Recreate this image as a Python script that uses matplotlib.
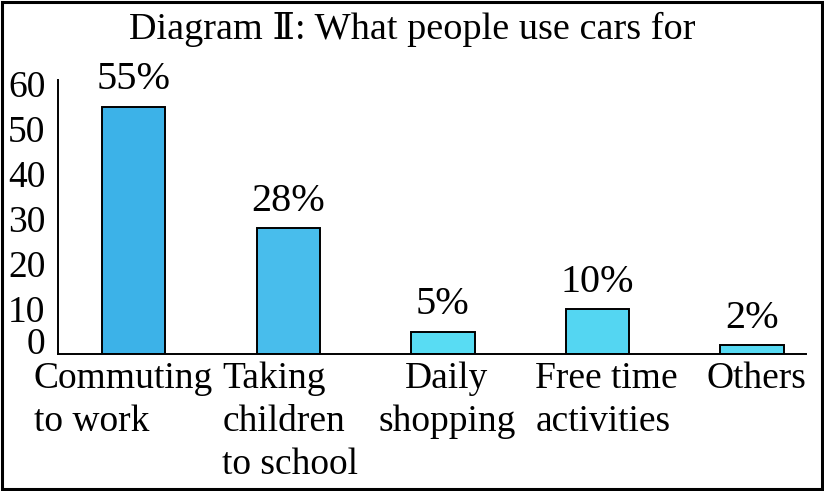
import matplotlib
matplotlib.use("Agg")
import matplotlib.pyplot as plt
from matplotlib.patches import Rectangle
from matplotlib.transforms import ScaledTranslation

categories = ["Commuting\nto work", "Taking\nchildren\nto school", "Daily\nshopping",
              "Free time\nactivities", "Others"]
values = [55, 28, 5, 10, 2]
value_labels = ["55%", "28%", "5%", "10%", "2%"]
y_ticks = [0, 10, 20, 30, 40, 50, 60]
title = "Diagram \u2161: What people use cars for"

bar_colors = ["#3cb2e8", "#48bdec", "#58dcf3", "#54d6f2", "#58daf3"]
# horizontal anchor of each category text and its offset (px) from the bar centre
label_ha = ["left", "left", "center", "left", "center"]
label_dx = [-100, -66, 4, -62, 5]

plt.rcParams["font.family"] = ["Liberation Serif", "DejaVu Serif", "DejaVu Sans"]

fig = plt.figure(figsize=(8.24, 4.91), dpi=100)
ax = fig.add_axes([58 / 824, 1 - 354 / 491, (806 - 58) / 824, (354 - 80) / 491])

x = list(range(len(values)))
ax.bar(x, values, width=0.41, color=bar_colors, edgecolor="black", linewidth=1.4, zorder=2)

for i in range(len(x)):
    ax.text(x[i], values[i] + 1.8, value_labels[i], ha="center", va="bottom", fontsize=29)

ax.set_xlim(-0.49, 4.35)
ax.set_ylim(0, 60.9)
ax.set_yticks(y_ticks)
ax.set_yticklabels([str(t) for t in y_ticks], fontsize=27)
ax.get_yticklabels()[0].set_va("baseline")
ax.set_xticks(x)
ax.set_xticklabels([])
ax.tick_params(axis="both", length=0)
ax.tick_params(axis="y", pad=9)

for i in range(len(x)):
    off = ScaledTranslation(label_dx[i] / 100, -8 / 100, fig.dpi_scale_trans)
    ax.text(x[i], 0, categories[i], transform=ax.get_xaxis_transform() + off,
            ha=label_ha[i], va="top", multialignment=label_ha[i],
            fontsize=27, linespacing=1.32)

for side in ["top", "right"]:
    ax.spines[side].set_visible(False)
ax.spines["left"].set_linewidth(1.4)
ax.spines["bottom"].set_linewidth(1.4)

fig.text(0.5, 1 - 29 / 491, title, ha="center", va="center", fontsize=27.5)

fig.patches.append(Rectangle((0.003, 0.005), 0.994, 0.99, transform=fig.transFigure,
                             fill=False, edgecolor="black", linewidth=2.2))

fig.savefig("out.png", dpi=100)
